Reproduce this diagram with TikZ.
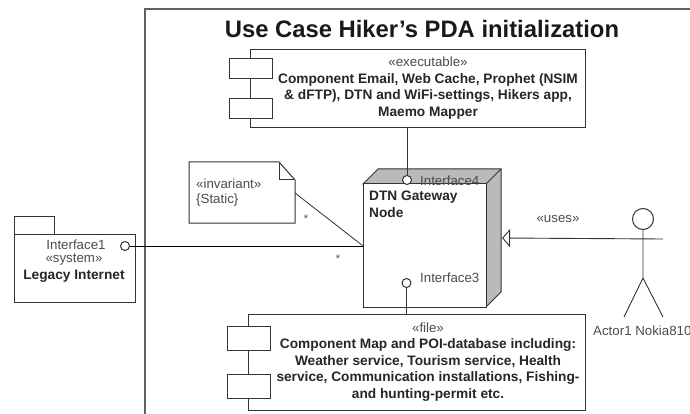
\documentclass[tikz,border=0pt]{standalone}
\usepackage{fontspec}
\setmainfont{Liberation Sans}
\usetikzlibrary{arrows.meta}
\definecolor{ink}{gray}{0.2}
\definecolor{txt}{gray}{0.3}
\definecolor{cubegrey}{gray}{0.73}
\tikzset{
  x=1pt,y=-1pt,
  line/.style={draw=ink,line width=1pt},
  lolly/.style={circle,draw=ink,line width=1pt,fill=white,inner sep=0pt,minimum size=9pt},
  lbl/.style={inner sep=0pt,text=txt,font=\fontsize{13.3}{15}\selectfont},
  body/.style={inner sep=0pt,align=center,text=black!85,font=\fontsize{13.7}{16.6}\selectfont},
  usesTip/.style={-{Triangle[open,length=8pt,width=18pt,fill=white]}},
}
\begin{document}
\begin{tikzpicture}
\useasboundingbox (0,0) rectangle (690,414);
\clip (0,0) rectangle (690,414);
% frame
\draw[draw=black!62,line width=1.6pt] (145,414) -- (145,9) -- (690,9);
\node[inner sep=0pt,text=black!90,font=\bfseries\fontsize{23.8}{26}\selectfont] (title) at (422,29) {Use Case Hiker’s PDA initialization};
% executable component
\node[line,fill=white,inner sep=0pt,minimum width=335pt,minimum height=78pt] (exec) at (417.5,89) {};
\node[line,fill=white,inner sep=0pt,minimum width=43pt,minimum height=20pt] (execA) at (250.5,69) {};
\node[line,fill=white,inner sep=0pt,minimum width=43pt,minimum height=20pt] (execB) at (250.5,109) {};
\node[body] (execT) at (428,88) {{\color{txt}\fontsize{13.3}{16.6}\selectfont«executable»}\\\textbf{Component Email, Web Cache, Prophet (NSIM}\\\textbf{\& dFTP), DTN and WiFi-settings, Hikers app,}\\\textbf{Maemo Mapper}};
% file component
\node[line,fill=white,inner sep=0pt,minimum width=337pt,minimum height=96pt] (file) at (416.5,362) {};
\node[line,fill=white,inner sep=0pt,minimum width=43pt,minimum height=24pt] (fileA) at (248.5,338) {};
\node[line,fill=white,inner sep=0pt,minimum width=43pt,minimum height=24pt] (fileB) at (248.5,386) {};
\node[body] (fileT) at (428,362) {{\color{txt}\fontsize{13.3}{16.6}\selectfont«file»}\\\textbf{Component Map and POI-database including:}\\\textbf{Weather service, Tourism service, Health}\\\textbf{service, Communication installations, Fishing-}\\\textbf{and hunting-permit etc.}};
% cube
\fill[cubegrey,draw=ink,line width=1pt] (363,184) -- (378,169) -- (501,169) -- (501,292) -- (486,307) -- (486,184) -- cycle;
\draw[ink,line width=1pt] (486,184) -- (501,169);
\node[line,fill=white,inner sep=0pt,minimum width=123pt,minimum height=123pt] (cube) at (424.5,245.5) {};
\node[body,anchor=north west,align=left,font=\bfseries\fontsize{13.7}{16.6}\selectfont] (cubeT) at (369,191) {DTN Gateway\\Node};
% note
\draw[line,fill=white] (189,162) -- (279,162) -- (295,180) -- (295,223) -- (189,223) -- cycle;
\draw[line] (279,162) -- (279,180) -- (295,180);
\coordinate (noteEnd) at (295,193);
\node[lbl,anchor=west] (noteA) at (196,184) {«invariant»};
\node[lbl,anchor=west] (noteB) at (196,200) {\{Static\}};
\draw[line,line width=0.8pt] (noteEnd) -- (cube.west);
\node[lbl,font=\fontsize{11}{13}\selectfont] (starA) at (306,219) {*};
\node[lbl,font=\fontsize{11}{13}\selectfont] (starB) at (338,259) {*};
% legacy
\node[line,fill=white,inner sep=0pt,minimum width=40pt,minimum height=18pt] (tab) at (34,225) {};
\node[line,fill=white,inner sep=0pt,minimum width=121pt,minimum height=68pt] (legacy) at (74.5,268) {};
\node[lbl] (ifA) at (76,245) {Interface1};
\node[lbl] (sys) at (74,260) {«system»};
\node[lbl,text=black!85,font=\bfseries\fontsize{13.7}{15}\selectfont] (legT) at (74,276) {Legacy Internet};
\node[lolly] (lolA) at (125,246) {};
\draw[draw=black,line width=0.9pt] (lolA) -- (cube.west |- lolA);
% lollipops
\node[lolly] (lolT) at (407,180) {};
\draw[line] (exec.south -| lolT) -- (lolT);
\node[lbl,anchor=west] (ifT) at (420,180.5) {Interface4};
\node[lolly] (lolB) at (406.5,283) {};
\draw[line] (lolB) -- (file.north -| lolB);
\node[lbl,anchor=west] (ifB) at (420,278) {Interface3};
% actor
\node[circle,draw=ink,line width=1pt,fill=white,inner sep=0pt,minimum size=21pt] (head) at (643,219) {};
\coordinate (hip) at (643,278);
\coordinate (armR) at (663,239);
\coordinate (legL) at (624,317);
\coordinate (legR) at (663,317);
\draw[line,line width=0.9pt] (head.south) -- (hip) -- (legL);
\draw[line,line width=0.9pt] (hip) -- (legR);
\coordinate (tipU) at (502,238);
\draw[line,line width=0.9pt,usesTip] (armR) -- (tipU);
\node[lbl,anchor=west] (act) at (593,331) {Actor1 Nokia810};
\node[lbl] (uses) at (558,219) {«uses»};
\end{tikzpicture}
\end{document}
